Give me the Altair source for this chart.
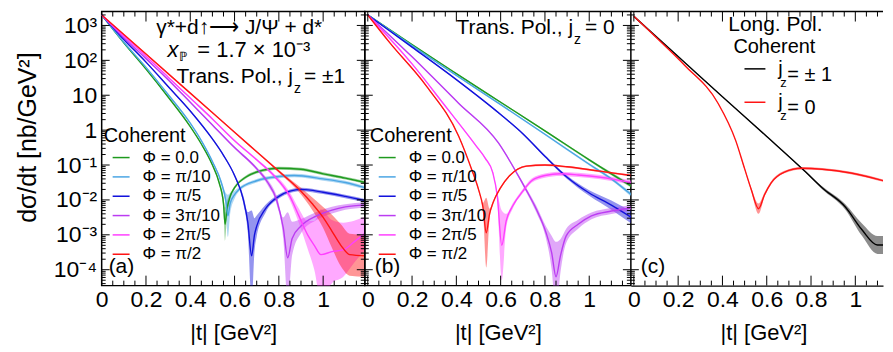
import altair as alt
import pandas as pd

FONT = "Liberation Sans"

# ---------------- categories / colours ----------------
PHI_NAMES = ["Φ = 0.0", "Φ = π/10", "Φ = π/5", "Φ = 3π/10", "Φ = 2π/5", "Φ = π/2"]
PHI_COLORS = ["#1e9a1e", "#4ba6e4", "#1212dc", "#bb3cf2", "#ff40ff", "#ff1414"]
JZ_NAMES = ["jz = ± 1", "jz = 0"]
JZ_COLORS = ["#000000", "#ff1414"]

# ---------------- axis ticks ----------------
X_LABELS = [0, 0.2, 0.4, 0.6, 0.8, 1]
X_MAJOR = [0, 0.2, 0.4, 0.6, 0.8, 1.0, 1.2]
X_MINOR = [0.05, 0.1, 0.15, 0.25, 0.3, 0.35, 0.45, 0.5, 0.55, 0.65, 0.7, 0.75,
           0.85, 0.9, 0.95, 1.05, 1.1, 1.15]
Y_MAJOR = [1e-4, 1e-3, 1e-2, 1e-1, 1, 10, 100, 1000]
Y_MINOR = [m * 10.0 ** k for k in range(-5, 4) for m in range(2, 10)]

# ---------------- panel (a): Trans. Pol., jz = ±1 ----------------
A_PHI0_T = [0, 0.1, 0.2, 0.3, 0.4, 0.45, 0.5, 0.53, 0.55, 0.557, 0.565, 0.58, 0.6, 0.65, 0.7, 0.8, 0.9, 1.0, 1.1, 1.19]
A_PHI0_V = [2000, 316, 56, 8.9, 1.26, 0.4, 0.1, 0.0316, 0.0079, 0.002, 0.005, 0.0126, 0.0224, 0.0447, 0.063, 0.081, 0.076, 0.056, 0.042, 0.0316]
A_PHI0_E = [1.05, 1.05, 1.05, 1.05, 1.05, 1.05, 1.08, 1.15, 1.5, 3.0, 1.8, 1.2, 1.12, 1.1, 1.1, 1.1, 1.1, 1.1, 1.1, 1.1]

A_PI10_T = [0, 0.1, 0.2, 0.3, 0.4, 0.45, 0.5, 0.54, 0.56, 0.57, 0.58, 0.6, 0.62, 0.7, 0.8, 0.87, 1.0, 1.1, 1.19]
A_PI10_V = [2000, 331, 63, 10.5, 1.58, 0.5, 0.126, 0.0316, 0.01, 0.0035, 0.0079, 0.0141, 0.02, 0.0355, 0.0468, 0.05, 0.04, 0.0316, 0.0224]
A_PI10_E = [1.05, 1.05, 1.05, 1.05, 1.05, 1.05, 1.08, 1.2, 1.6, 4.0, 2.0, 1.3, 1.15, 1.12, 1.12, 1.12, 1.12, 1.12, 1.12]

A_PI5_T = [0, 0.1, 0.2, 0.3, 0.4, 0.5, 0.55, 0.6, 0.64, 0.66, 0.677, 0.69, 0.7, 0.74, 0.8, 0.85, 0.9, 1.0, 1.1, 1.19]
A_PI5_V = [2000, 398, 89, 17.8, 3.55, 0.56, 0.19, 0.05, 0.01, 0.00224, 0.00025, 0.001, 0.00178, 0.0056, 0.0126, 0.0178, 0.02, 0.0166, 0.0126, 0.0095]
A_PI5_E = [1.05, 1.05, 1.05, 1.05, 1.05, 1.06, 1.08, 1.1, 1.3, 2.0, 20, 3.0, 2.0, 1.3, 1.15, 1.12, 1.12, 1.12, 1.12, 1.12]

A_3PI10_T = [0, 0.1, 0.2, 0.3, 0.4, 0.5, 0.6, 0.7, 0.75, 0.79, 0.82, 0.84, 0.86, 0.9, 0.97, 1.04, 1.1, 1.19]
A_3PI10_V = [2000, 447, 112, 28, 6.3, 1.41, 0.316, 0.079, 0.0316, 0.01, 0.00158, 0.00022, 0.00079, 0.00178, 0.00347, 0.0051, 0.0063, 0.0072]
A_3PI10_E = [1.05, 1.05, 1.05, 1.05, 1.05, 1.06, 1.08, 1.12, 1.2, 1.35, 2.0, 20, 3.0, 1.6, 1.3, 1.25, 1.2, 1.2]

A_2PI5_T = [0, 0.1, 0.2, 0.3, 0.4, 0.5, 0.6, 0.7, 0.77, 0.85, 0.89, 0.93, 0.96, 0.99, 1.04, 1.09, 1.14, 1.19]
A_2PI5_V = [2000, 501, 132, 33, 8.3, 2.1, 0.5, 0.141, 0.056, 0.0126, 0.00355, 0.001, 0.0005, 0.00027, 0.00033, 0.00037, 0.00063, 0.00112]
A_2PI5_E = [1.05, 1.05, 1.05, 1.05, 1.05, 1.05, 1.06, 1.08, 1.12, 1.3, 1.6, 2.5, 5, 20, 8, 6, 4, 3]

A_PI2_T = [0, 0.2, 0.4, 0.6, 0.8, 0.9, 0.95, 1.0, 1.04, 1.08, 1.12, 1.19]
A_PI2_V = [2000, 151, 11.5, 0.87, 0.066, 0.0178, 0.0079, 0.00316, 0.00126, 0.0005, 0.00027, 0.00025]
A_PI2_E = [1.05, 1.05, 1.05, 1.05, 1.1, 1.25, 1.5, 2.0, 3.0, 4.0, 4.0, 4.0]

# ---------------- panel (b): Trans. Pol., jz = 0 ----------------
B_PHI0_T = [0, 0.2, 0.4, 0.6, 0.8, 1.0, 1.1, 1.19]
B_PHI0_V = [2000, 282, 41.7, 6.3, 0.955, 0.141, 0.056, 0.025]
B_PHI0_E = [1.04, 1.04, 1.04, 1.05, 1.06, 1.08, 1.1, 1.12]

B_PI10_T = [0, 0.2, 0.4, 0.6, 0.8, 1.0, 1.1, 1.19]
B_PI10_V = [2000, 263, 37, 5.4, 0.76, 0.105, 0.04, 0.0141]
B_PI10_E = [1.04, 1.04, 1.04, 1.05, 1.06, 1.08, 1.1, 1.15]

B_PI5_T = [0, 0.2, 0.4, 0.6, 0.7, 0.8, 0.9, 1.0, 1.1, 1.19]
B_PI5_V = [2000, 240, 28, 2.8, 0.79, 0.178, 0.0447, 0.0158, 0.0071, 0.00316]
B_PI5_E = [1.04, 1.04, 1.04, 1.05, 1.06, 1.08, 1.12, 1.2, 1.35, 1.5]

B_3PI10_T = [0, 0.2, 0.41, 0.59, 0.68, 0.715, 0.76, 0.805, 0.83, 0.85, 0.87, 0.896, 0.95, 1.01, 1.1, 1.19]
B_3PI10_V = [2000, 126, 5.9, 0.43, 0.049, 0.0195, 0.0056, 0.00115, 0.000316, 0.000063, 0.00025, 0.00093, 0.002, 0.00347, 0.0048, 0.0059]
B_3PI10_E = [1.04, 1.04, 1.05, 1.06, 1.1, 1.15, 1.25, 1.5, 3, 10, 3, 1.6, 1.35, 1.25, 1.22, 1.2]

B_2PI5_T = [0, 0.2, 0.34, 0.49, 0.53, 0.565, 0.585, 0.605, 0.625, 0.655, 0.7, 0.74, 0.8, 0.87, 0.95, 1.05, 1.19]
B_2PI5_V = [2000, 79, 5.9, 0.35, 0.158, 0.059, 0.0126, 0.0005, 0.0025, 0.0068, 0.0178, 0.0355, 0.05, 0.056, 0.052, 0.0447, 0.0316]
B_2PI5_E = [1.04, 1.04, 1.05, 1.06, 1.08, 1.1, 1.3, 10, 1.6, 1.2, 1.15, 1.15, 1.15, 1.15, 1.15, 1.15, 1.15]

B_PI2_T = [0, 0.1, 0.265, 0.41, 0.47, 0.5, 0.52, 0.535, 0.55, 0.565, 0.6, 0.64, 0.716, 0.8, 0.9, 1.01, 1.1, 1.19]
B_PI2_V = [2000, 316, 18.2, 0.68, 0.072, 0.02, 0.0063, 0.00115, 0.004, 0.0081, 0.0224, 0.049, 0.093, 0.1, 0.089, 0.072, 0.06, 0.05]
B_PI2_E = [1.04, 1.04, 1.05, 1.06, 1.08, 1.12, 1.3, 10, 1.4, 1.15, 1.08, 1.06, 1.06, 1.06, 1.06, 1.06, 1.06, 1.06]

# ---------------- panel (c): Long. Pol. ----------------
C_PM1_T = [0, 0.2, 0.4, 0.6, 0.775, 0.85, 0.955, 1.03, 1.1, 1.13]
C_PM1_V = [1820, 129, 9.1, 0.66, 0.064, 0.0224, 0.0063, 0.0014, 0.00051, 0.00051]
C_PM1_E = [1.03, 1.03, 1.03, 1.04, 1.06, 1.1, 1.2, 1.5, 1.8, 1.8]

C_0_T = [0, 0.1, 0.23, 0.38, 0.46, 0.5, 0.53, 0.563, 0.59, 0.62, 0.68, 0.757, 0.85, 0.98, 1.13]
C_0_V = [1820, 457, 71, 5.9, 0.5, 0.079, 0.02, 0.0056, 0.0141, 0.031, 0.063, 0.081, 0.076, 0.059, 0.035]
C_0_E = [1.03, 1.03, 1.03, 1.04, 1.05, 1.08, 1.12, 1.4, 1.15, 1.1, 1.08, 1.08, 1.08, 1.08, 1.08]

# ---------------- layout ----------------
H = 275
WA, WB, WC = 264, 267, 253
XDOM_A = [0, 1.188]
XDOM_B = [-0.0135, 1.188]
XDOM_C = [-0.0135, 1.125]
YDOM = [3.5e-5, 2500]


def make_df(names, series):
    rows = []
    for name, (ts, vs, es) in zip(names, series):
        for t, v, e in zip(ts, vs, es):
            rows.append({"s": name, "t": t, "v": v, "lo": v / e, "hi": v * e})
    return pd.DataFrame(rows)


DF_A = make_df(PHI_NAMES, [(A_PHI0_T, A_PHI0_V, A_PHI0_E), (A_PI10_T, A_PI10_V, A_PI10_E),
                           (A_PI5_T, A_PI5_V, A_PI5_E), (A_3PI10_T, A_3PI10_V, A_3PI10_E),
                           (A_2PI5_T, A_2PI5_V, A_2PI5_E), (A_PI2_T, A_PI2_V, A_PI2_E)])
DF_B = make_df(PHI_NAMES, [(B_PHI0_T, B_PHI0_V, B_PHI0_E), (B_PI10_T, B_PI10_V, B_PI10_E),
                           (B_PI5_T, B_PI5_V, B_PI5_E), (B_3PI10_T, B_3PI10_V, B_3PI10_E),
                           (B_2PI5_T, B_2PI5_V, B_2PI5_E), (B_PI2_T, B_PI2_V, B_PI2_E)])
DF_C = make_df(JZ_NAMES, [(C_PM1_T, C_PM1_V, C_PM1_E), (C_0_T, C_0_V, C_0_E)])

YLABEL_EXPR = (
    "round(log(datum.value)/LN10)==3?'10³':round(log(datum.value)/LN10)==2?'10²':"
    "round(log(datum.value)/LN10)==1?'10':round(log(datum.value)/LN10)==0?'1':"
    "round(log(datum.value)/LN10)==-1?'10⁻¹':round(log(datum.value)/LN10)==-2?'10⁻²':"
    "round(log(datum.value)/LN10)==-3?'10⁻³':'10⁻⁴'"
)


def x_axis(domain_line=False, title_x=None):
    kw = dict(values=X_LABELS, format="~g", labelFontSize=23, labelPadding=3, labelFlush=False,
              labelOverlap=False, ticks=False, grid=False, domain=domain_line,
              title="|t| [GeV²]", titleFontSize=22, titleFontWeight="normal",
              titleY=47, titleBaseline="middle", labelColor="black", titleColor="black")
    if domain_line:
        kw.update(domainColor="black", domainWidth=1.5)
    if title_x is not None:
        kw["titleX"] = title_x
    return alt.Axis(**kw)


Y_AXIS_A = alt.Axis(values=Y_MAJOR, labelExpr=YLABEL_EXPR, labelFontSize=23, labelPadding=5,
                    labelOverlap=False, ticks=False, domain=False, grid=False,
                    title="dσ/dt [nb/GeV²]", titleFontSize=25, titleFontWeight="normal",
                    titleAngle=270, titleX=-74, titleY=126, titleAlign="center",
                    titleBaseline="middle", labelColor="black", titleColor="black")


def text(s, x, y, size=21, align="left", italic=False):
    return alt.Chart(pd.DataFrame({"s": [s]})).mark_text(
        align=align, baseline="middle", fontSize=size, font=FONT, color="black",
        fontStyle="italic" if italic else "normal"
    ).encode(text="s:N", x=alt.value(x), y=alt.value(y))


def panel(df, names, colors, xdom, width, xaxis, yaxis, legend, texts,
          left=True, right=True, top_line=False, band_opacity=0.45):
    xs = alt.Scale(domain=xdom, nice=False, zero=False)
    ys = alt.Scale(type="log", domain=YDOM, nice=False)
    X = alt.X("t:Q", scale=xs, axis=xaxis)
    Y = alt.Y("v:Q", scale=ys, axis=yaxis)
    layers = []
    # uncertainty bands: one layer per series, fixed fill colour (no extra scale)
    for name, col in zip(names, colors):
        layers.append(
            alt.Chart(df).transform_filter(alt.datum.s == name).mark_area(
                clip=True, opacity=band_opacity, interpolate="monotone", color=col
            ).encode(x=X, y=alt.Y("lo:Q", scale=ys, axis=yaxis), y2="hi:Q")
        )
    layers.append(
        alt.Chart(df).mark_line(clip=True, strokeWidth=1.4, interpolate="monotone").encode(
            x=X, y=Y, color=alt.Color("s:N", scale=alt.Scale(domain=names, range=colors), legend=legend))
    )

    def xt(vals, y0, y1):
        return alt.Chart(pd.DataFrame({"t": vals})).mark_rule(
            clip=True, color="black", strokeWidth=1).encode(x=X, y=alt.value(y0), y2=alt.value(y1))

    def yt(vals, x0, x1):
        return alt.Chart(pd.DataFrame({"v": vals})).mark_rule(
            clip=True, color="black", strokeWidth=1).encode(y=Y, x=alt.value(x0), x2=alt.value(x1))

    layers += [xt(X_MAJOR, H, H - 10), xt(X_MINOR, H, H - 5), xt(X_MAJOR, 0, 10), xt(X_MINOR, 0, 5)]
    if left:
        layers += [yt(Y_MAJOR, 0, 8), yt(Y_MINOR, 0, 4)]
    if right:
        layers += [yt(Y_MAJOR, width, width - 8), yt(Y_MINOR, width, width - 4)]
    if top_line:
        layers.append(alt.Chart(pd.DataFrame({"a": [0]})).mark_rule(color="black", strokeWidth=1.5).encode(
            x=alt.value(0), x2=alt.value(width), y=alt.value(0)))
    layers += texts
    return alt.layer(*layers)


def phi_legend(x):
    return alt.Legend(title="Coherent", orient="none", legendX=x, legendY=115, direction="vertical",
                      titleFontSize=20, titleFontWeight="normal", titlePadding=2, titleColor="black",
                      labelFontSize=17, labelColor="black", symbolType="stroke", symbolSize=289,
                      symbolStrokeWidth=1.5, symbolOffset=8, labelOffset=12, rowPadding=1.4,
                      padding=0)


JZ_LEGEND = alt.Legend(title=None, orient="none", legendX=113, legendY=46, direction="vertical",
                       labelExpr="'j'", labelFontSize=20, labelColor="black", symbolType="stroke",
                       symbolSize=441, symbolStrokeWidth=1.5, labelOffset=12, rowPadding=11.5,
                       padding=0)

TEXT_A = [
    text("γ*+d↑⟶ J/Ψ + d*", 138, 17, size=21, align="center"),
    text("x", 66, 39, size=22, italic=True),
    text("ℙ", 78, 46, size=13),
    text("= 1.7 × 10⁻³", 96, 39, size=22),
    text("Trans. Pol., j", 192, 66, size=21, align="right"),
    text("z", 193, 78, size=14),
    text("= ±1", 203, 66, size=21),
    text("(a)", 7, 256, size=21),
]
TEXT_B = [
    text("Trans. Pol., j", 209, 17, size=21, align="right"),
    text("z", 210, 29, size=14),
    text("= 0", 221, 17, size=21),
    text("(b)", 10, 256, size=21),
]
TEXT_C = [
    text("Long. Pol.", 145, 14, size=21, align="center"),
    text("Coherent", 144, 36, size=20, align="center"),
    text("z", 150, 72, size=13),
    text("= ± 1", 157, 64, size=20),
    text("z", 150, 105, size=13),
    text("= 0", 157, 97, size=20),
    text("(c)", 10, 256, size=21),
]

PA = panel(DF_A, PHI_NAMES, PHI_COLORS, XDOM_A, WA, x_axis(), Y_AXIS_A, phi_legend(2), TEXT_A,
           left=True, right=True).properties(width=WA, height=H)
PB = panel(DF_B, PHI_NAMES, PHI_COLORS, XDOM_B, WB, x_axis(), None, phi_legend(5), TEXT_B,
           left=True, right=True).properties(width=WB, height=H)
PC = panel(DF_C, JZ_NAMES, JZ_COLORS, XDOM_C, WC, x_axis(domain_line=True, title_x=133), None,
           JZ_LEGEND, TEXT_C, left=True, right=False, top_line=True).properties(
    width=WC, height=H, view=alt.ViewBackground(stroke="transparent"))

chart = alt.hconcat(PA, PB, PC, spacing=0, bounds="flush").resolve_scale(
    x="independent", y="independent", color="independent"
).properties(
    padding={"left": 7, "top": 1, "right": 0, "bottom": 0}
).configure(font=FONT).configure_view(stroke="black", strokeWidth=1.5)

chart.save("out.html", embed_options={"renderer": "svg", "actions": False})
